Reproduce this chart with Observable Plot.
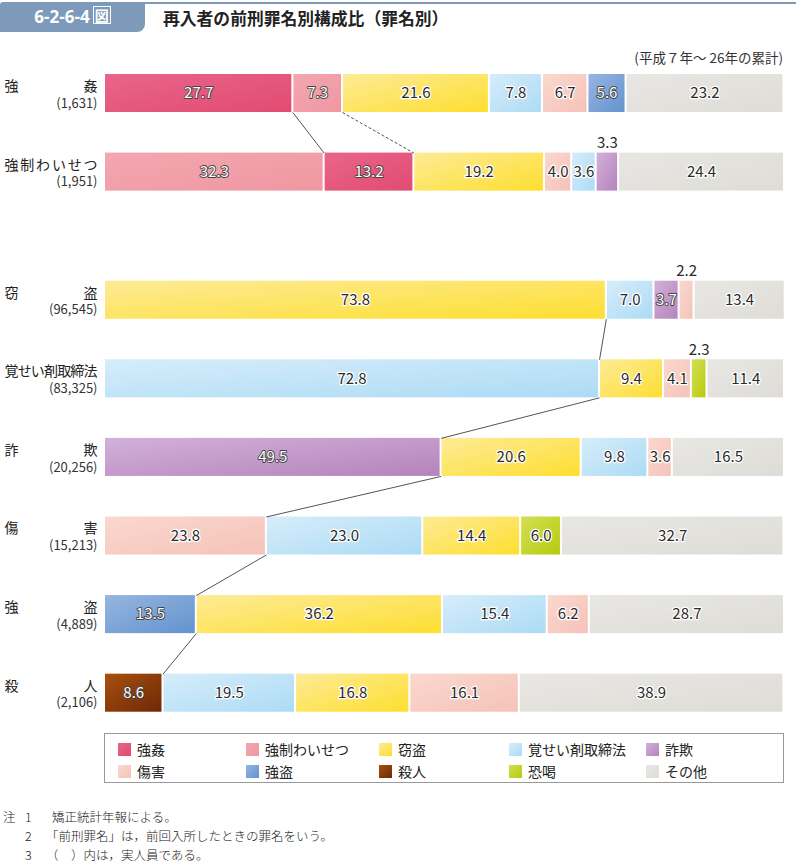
<!DOCTYPE html>
<html><head><meta charset="utf-8">
<script src="https://cdn.jsdelivr.net/npm/d3@7"></script>
<script src="https://cdn.jsdelivr.net/npm/@observablehq/plot@0.6"></script>
<style>
body{margin:0;width:796px;height:862px;position:relative;background:#fff;overflow:hidden;font-family:"Noto Sans CJK JP","Noto Sans",sans-serif;color:#222}
#tab{position:absolute;left:0;top:2px;width:145px;height:30px;background:#7d9aba;border-radius:3px 0 8px 0;color:#fff;font-weight:bold;font-size:17px;line-height:30px;text-align:center;font-family:"Open Sans","Noto Sans CJK JP",sans-serif}
#tab .zu{display:inline-block;border:1.5px solid #fff;font-size:14px;line-height:16px;padding:0 1px;margin-left:3px;vertical-align:2px;font-family:"Noto Sans CJK JP"}
#topline{position:absolute;left:145px;top:2px;width:651px;height:2px;background:#7d9aba}
#title{position:absolute;left:163px;top:5px;font-size:16.8px;font-weight:bold;line-height:26px;color:#222}
#sub{position:absolute;right:13px;top:47px;font-size:13.5px;line-height:20px;color:#333}
#chart{position:absolute;left:0;top:62px}
#legend{position:absolute;left:104px;top:733px;width:678px;height:48px;border:1px solid #999}
.li{position:absolute;font-size:14px;line-height:18px;white-space:nowrap}
.sw{position:absolute;width:13px;height:13px}
#notes{position:absolute;left:0;top:807px;width:796px;font-size:12.5px;line-height:19px;color:#222;font-family:"Noto Sans CJK JP";font-weight:300}
#notes div{position:relative;height:19px;width:796px}
#notes span{position:absolute;white-space:nowrap}
</style></head><body>
<div id="tab">6-2-6-4<span class="zu">図</span></div>
<div id="topline"></div>
<div id="title">再入者の前刑罪名別構成比（罪名別）</div>
<div id="sub">(平成７年～ 26年の累計)</div>
<div id="chart"></div>
<div id="legend"></div>
<div id="notes">
<div><span style="left:3px">注</span><span style="left:25px">1</span><span style="left:52px">矯正統計年報による。</span></div>
<div><span style="left:25px">2</span><span style="left:46px">「前刑罪名」は，前回入所したときの罪名をいう。</span></div>
<div><span style="left:25px">3</span><span style="left:46px">（　）内は，実人員である。</span></div>
</div>
<script>
// ---- data ----
const rowNames = ["強姦","強制わいせつ","窃盗","覚せい剤取締法","詐欺","傷害","強盗","殺人"];
const rowCounts = ["1,631","1,951","96,545","83,325","20,256","15,213","4,889","2,106"];
const segCrimes = [
  ["強姦","強制わいせつ","窃盗","覚せい剤取締法","傷害","強盗","その他"],
  ["強制わいせつ","強姦","窃盗","傷害","覚せい剤取締法","詐欺","その他"],
  ["窃盗","覚せい剤取締法","詐欺","傷害","その他"],
  ["覚せい剤取締法","窃盗","傷害","恐喝","その他"],
  ["詐欺","窃盗","覚せい剤取締法","傷害","その他"],
  ["傷害","覚せい剤取締法","窃盗","恐喝","その他"],
  ["強盗","窃盗","覚せい剤取締法","傷害","その他"],
  ["殺人","覚せい剤取締法","窃盗","傷害","その他"]
];
const segValues = [
  [27.7,7.3,21.6,7.8,6.7,5.6,23.2],
  [32.3,13.2,19.2,4.0,3.6,3.3,24.4],
  [73.8,7.0,3.7,2.2,13.4],
  [72.8,9.4,4.1,2.3,11.4],
  [49.5,20.6,9.8,3.6,16.5],
  [23.8,23.0,14.4,6.0,32.7],
  [13.5,36.2,15.4,6.2,28.7],
  [8.6,19.5,16.8,16.1,38.9]
];
const legendCrimes = ["強姦","強制わいせつ","窃盗","覚せい剤取締法","詐欺","傷害","強盗","殺人","恐喝","その他"];

// ---- styles ----
const crimeGrad = {
  "強姦":["#e9658a","#e24b72"],
  "強制わいせつ":["#f3a7b0","#ef97a1"],
  "窃盗":["#fdeb96","#fede30"],
  "覚せい剤取締法":["#d6edfa","#acdbf5"],
  "詐欺":["#d2b1d8","#b583bc"],
  "傷害":["#fad8cf","#f5c2b8"],
  "強盗":["#97b5e0","#6393cf"],
  "殺人":["#a9500c","#6e2808"],
  "恐喝":["#d3df55","#b7cb0c"],
  "その他":["#e8e7e3","#dddcd7"]
};
const darkCrimes = new Set(["強姦","強制わいせつ","詐欺","強盗","殺人"]);
const gid = c => "g" + legendCrimes.indexOf(c);

// ---- layout helpers ----
const rowPos = i => i + (i >= 2 ? 0.63 : 0);
const half = 0.242;

const segs = [];
segCrimes.forEach((cs, i) => {
  let acc = 0;
  cs.forEach((c, k) => {
    const v = segValues[i][k];
    segs.push({row: i, k, crime: c, value: v, a: acc, b: acc + v, p: rowPos(i)});
    acc += v;
  });
});
const rows = rowNames.map((n, i) => ({name: n, count: "(" + rowCounts[i] + ")", p: rowPos(i)}));
const endOf = (i, k) => segValues[i].slice(0, k + 1).reduce((s, v) => s + v, 0);
const linkPairs = [[0,1,0,false],[0,1,1,true],[2,3,0,false],[3,4,0,false],[4,5,0,false],[5,6,0,false],[6,7,0,false]];
const links = linkPairs.map(([i, j, k, dash]) => ({
  x1: endOf(i, k), y1: rowPos(i) + half, x2: endOf(j, k), y2: rowPos(j) - half, dash
}));
const inside = segs.filter(d => d.value >= 3.5);
const above = segs.filter(d => d.value < 3.5);
const font = "'Noto Sans CJK JP', sans-serif";

const chart = Plot.plot({
  width: 796, height: 660, margin: 0,
  x: {domain: [0, 100], range: [104, 784], axis: null},
  y: {domain: [0, 7.63], range: [31, 630.7], axis: null},
  color: {type: "identity"},
  style: {fontFamily: font, background: "transparent"},
  marks: [
    Plot.rect(segs, {x1: "a", x2: "b", y1: d => d.p - half, y2: d => d.p + half,
      fill: d => `url(#${gid(d.crime)})`, insetLeft: 1, insetRight: 1}),
    Plot.link(links.filter(d => !d.dash), {x1: "x1", y1: "y1", x2: "x2", y2: "y2", stroke: "#555", strokeWidth: 1}),
    Plot.link(links.filter(d => d.dash), {x1: "x1", y1: "y1", x2: "x2", y2: "y2", stroke: "#555", strokeWidth: 1, strokeDasharray: "3,2"}),
    Plot.text(inside.filter(d => !darkCrimes.has(d.crime)), {x: d => (d.a + d.b) / 2, y: "p", text: d => d.value.toFixed(1),
      fill: "#2a2a2a", stroke: "white", strokeWidth: 2.5, fontSize: 15}),
    Plot.text(inside.filter(d => darkCrimes.has(d.crime)), {x: d => (d.a + d.b) / 2, y: "p", text: d => d.value.toFixed(1),
      fill: "white", stroke: "#444", strokeWidth: 1.8, fontSize: 15}),
    Plot.text(above, {x: d => (d.a + d.b) / 2, y: d => d.p - half, dy: -10, text: d => d.value.toFixed(1),
      fill: "#2a2a2a", fontSize: 15}),
    Plot.text(rows, {frameAnchor: "left", dx: 4, y: "p", dy: -7, text: "name", textAnchor: "start",
      fontSize: 14, fill: "#222", className: "rowname"}),
    Plot.text(rows, {frameAnchor: "left", dx: 97, y: "p", dy: 10, text: "count", textAnchor: "end",
      fontSize: 13, fill: "#333"})
  ]
});

// gradients
const svg = d3.select(chart);
const defs = svg.insert("defs", ":first-child");
legendCrimes.forEach(c => {
  const g = defs.append("linearGradient").attr("id", gid(c)).attr("x1", 0).attr("y1", 0).attr("x2", 1).attr("y2", 1);
  g.append("stop").attr("offset", "0%").attr("stop-color", crimeGrad[c][0]);
  g.append("stop").attr("offset", "100%").attr("stop-color", crimeGrad[c][1]);
});
// justified row names
svg.selectAll(".rowname text").attr("textLength", 93).attr("lengthAdjust", "spacing");
document.getElementById("chart").appendChild(chart);

// legend
const legend = document.getElementById("legend");
const colX = [13, 141, 274, 404, 541];
legendCrimes.forEach((c, i) => {
  const col = i % 5, row = Math.floor(i / 5);
  const sw = document.createElement("div");
  sw.className = "sw";
  sw.style.left = colX[col] + "px";
  sw.style.top = (9 + row * 22) + "px";
  sw.style.background = `linear-gradient(135deg, ${crimeGrad[c][0]}, ${crimeGrad[c][1]})`;
  legend.appendChild(sw);
  const t = document.createElement("div");
  t.className = "li";
  t.style.left = (colX[col] + 19) + "px";
  t.style.top = (6 + row * 22) + "px";
  t.textContent = c;
  legend.appendChild(t);
});
</script>
</body></html>
